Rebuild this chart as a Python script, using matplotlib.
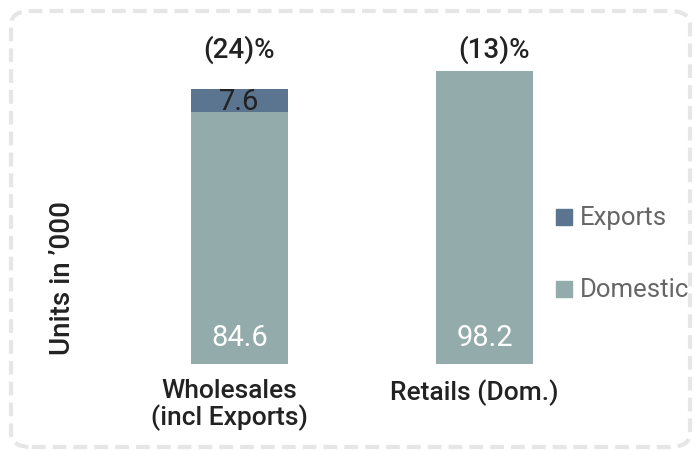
import matplotlib.pyplot as plt
from matplotlib.patches import FancyBboxPatch
from matplotlib.transforms import blended_transform_factory
import numpy as np

plt.rcParams['font.family'] = ['Roboto', 'DejaVu Sans']

categories = ["Wholesales\n(incl Exports)", "Retails (Dom.)"]
domestic = [84.6, 98.2]
exports = [7.6, 0]
changes = ["(24)%", "(13)%"]

c_dom = '#93abab'
c_exp = '#5b7590'

W, H = 695, 452
fig = plt.figure(figsize=(W / 100, H / 100), dpi=100)

# dashed rounded frame around the whole panel
frame = FancyBboxPatch((11 / W, 4 / H), 679 / W, 436 / H,
                       boxstyle="round,pad=0,rounding_size=0.03",
                       transform=fig.transFigure, fill=False,
                       edgecolor='#e6e6e6', linewidth=3,
                       linestyle=(0, (3.3, 1.7)))
fig.patches.append(frame)

ax = fig.add_axes([115 / W, 87 / H, 445 / W, 325 / H])
x = np.arange(len(categories))
width = 0.396

ax.bar(x, domestic, width, color=c_dom, label='Domestic')
ax.bar(x[:1], exports[:1], width, bottom=domestic[:1], color=c_exp, label='Exports')

ax.set_xlim(-0.508, 1.308)
ax.set_ylim(0, 109)

for i in range(len(categories)):
    ax.text(x[i], 9, "{:.1f}".format(domestic[i]), ha='center', va='center',
            color='white', fontsize=21)
ax.text(x[0], domestic[0] + exports[0] / 2 - 0.3, "{:.1f}".format(exports[0]),
        ha='center', va='center', color='#222222', fontsize=21)

# change labels sit on one line above both bars
trans = blended_transform_factory(ax.transData, fig.transFigure)
for xi, lab in zip([x[0], x[1] + 0.04], changes):
    ax.text(xi, 1 - 50 / H, lab, transform=trans, ha='center', va='center',
            color='#222222', fontsize=20, fontweight='medium')

ax.set_xticks(x - 0.04)
ax.set_xticklabels(categories, fontsize=19, color='#222222', linespacing=1.05,
                   fontweight='medium')
ax.tick_params(axis='x', length=0, pad=10)
ax.set_yticks([])
for s in ax.spines.values():
    s.set_visible(False)

fig.text(62 / W, 1 - 278 / H, "Units in \u2019000", rotation=90, ha='center',
         va='center', fontsize=20, color='#222222', fontweight='medium')

# legend drawn as square markers with labels
for lab, col, yp in [("Exports", c_exp, 218), ("Domestic", c_dom, 290)]:
    fig.patches.append(plt.Rectangle((556 / W, 1 - (yp + 8) / H), 16 / W, 16 / H,
                                     transform=fig.transFigure, color=col))
    fig.text(580 / W, 1 - yp / H, lab, ha='left', va='center',
             fontsize=18.5, color='#666666')

fig.savefig('out.png', dpi=100)
